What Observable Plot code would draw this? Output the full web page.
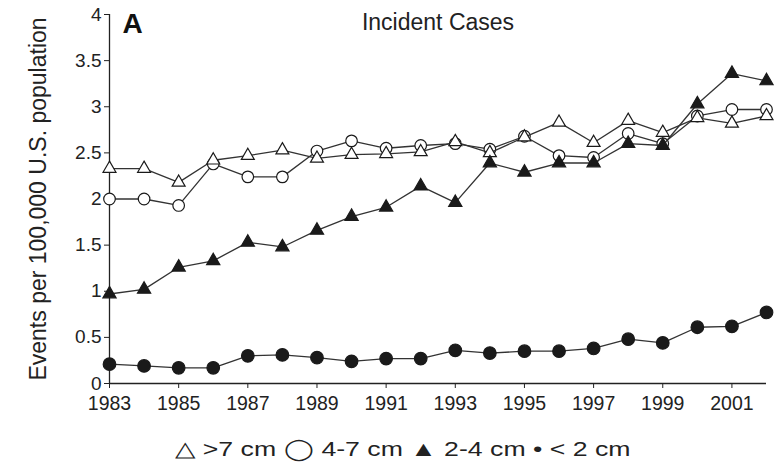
<!DOCTYPE html>
<html><head><meta charset="utf-8">
<script src="https://cdn.jsdelivr.net/npm/d3@7"></script>
<script src="https://cdn.jsdelivr.net/npm/@observablehq/plot@0.6"></script>
<style>
body{margin:0;background:#fff;font-family:"Liberation Sans",Arial,sans-serif;}
#wrap{position:relative;width:780px;height:463px;}
#chart{position:absolute;left:0;top:0;}
#legend{position:absolute;left:175px;top:437px;font-size:21px;line-height:24px;color:#222;white-space:nowrap;transform:scaleX(1.27);transform-origin:left center;}
</style>
</head><body>
<div id="wrap"><div id="chart"></div><div id="legend"></div></div>
<script>
const years = [1983,1984,1985,1986,1987,1988,1989,1990,1991,1992,1993,1994,1995,1996,1997,1998,1999,2000,2001,2002];
const over7cm   = [2.33,2.33,2.18,2.42,2.47,2.53,2.44,2.48,2.49,2.51,2.62,2.50,2.67,2.83,2.61,2.85,2.72,2.88,2.82,2.90];
const cm4to7    = [2.00,2.00,1.93,2.38,2.24,2.24,2.52,2.63,2.55,2.58,2.60,2.54,2.68,2.47,2.45,2.71,2.60,2.90,2.97,2.97];
const cm2to4    = [0.97,1.02,1.26,1.33,1.53,1.48,1.66,1.81,1.91,2.14,1.96,2.39,2.29,2.39,2.39,2.60,2.58,3.03,3.36,3.28];
const under2cm  = [0.21,0.19,0.17,0.17,0.30,0.31,0.28,0.24,0.27,0.27,0.36,0.33,0.35,0.35,0.38,0.48,0.44,0.61,0.62,0.77];
const xTicks = [1983,1985,1987,1989,1991,1993,1995,1997,1999,2001];
const yTicks = [0,0.5,1,1.5,2,2.5,3,3.5,4];
const title = "Incident Cases";
const panel = "A";
const yLabel = "Events per 100,000 U.S. population";
const legendItems = ["\u25B3 >7 cm","\u25EF 4-7 cm","\u25B2 2-4 cm","\u2022 < 2 cm"];

const series = [
  {values: under2cm, symbol: "circle",   fill: "#1a1a1a", r: 6.3},
  {values: cm4to7,   symbol: "circle",   fill: "#ffffff", r: 5.8},
  {values: over7cm,  symbol: "triangle", fill: "#ffffff", r: 4.8},
  {values: cm2to4,   symbol: "triangle", fill: "#1a1a1a", r: 4.9}
];

const marks = [];
for (const s of series) {
  const data = years.map((yr, i) => ({year: yr, value: s.values[i]}));
  marks.push(Plot.lineY(data, {x: "year", y: "value", stroke: "#333", strokeWidth: 1.3}));
  marks.push(Plot.dot(data, {x: "year", y: "value", symbol: () => s.symbol, r: s.r, fill: s.fill, stroke: "#1a1a1a", strokeWidth: 1.2}));
}

const chart = Plot.plot({
  width: 780,
  height: 420,
  marginLeft: 109,
  marginRight: 14,
  marginTop: 14,
  marginBottom: 37,
  x: {domain: [1983, 2002]},
  y: {domain: [0, 4]},
  symbol: {type: "identity"},
  style: {fontFamily: "'Liberation Sans', Arial, sans-serif", color: "#222", background: "#fff"},
  marks: [
    Plot.axisX({ticks: xTicks, tickFormat: d => String(d), tickSize: 5, tickPadding: 8, fontSize: 19.5, label: null, stroke: "#222"}),
    Plot.axisY({ticks: yTicks, tickFormat: d => String(d), tickSize: 5, tickPadding: 3, fontSize: 19, label: null, stroke: "#222"}),
    Plot.ruleY([0], {stroke: "#222", strokeWidth: 1.3}),
    Plot.ruleX([1983], {stroke: "#222", strokeWidth: 1.3}),
    ...marks,
    Plot.text([title], {frameAnchor: "top", lineAnchor: "middle", dy: 8, fontSize: 23, fill: "#222"}),
    Plot.text([panel], {frameAnchor: "top-left", textAnchor: "start", lineAnchor: "middle", dx: 13, dy: 10, fontSize: 28, fontWeight: "bold", fill: "#111"}),
    Plot.text([yLabel], {frameAnchor: "left", textAnchor: "middle", lineAnchor: "middle", rotate: -90, dx: -71, fontSize: 23, fill: "#222"})
  ]
});
document.getElementById("chart").appendChild(chart);
document.getElementById("legend").textContent = legendItems.join(" ");
</script>
</body></html>
